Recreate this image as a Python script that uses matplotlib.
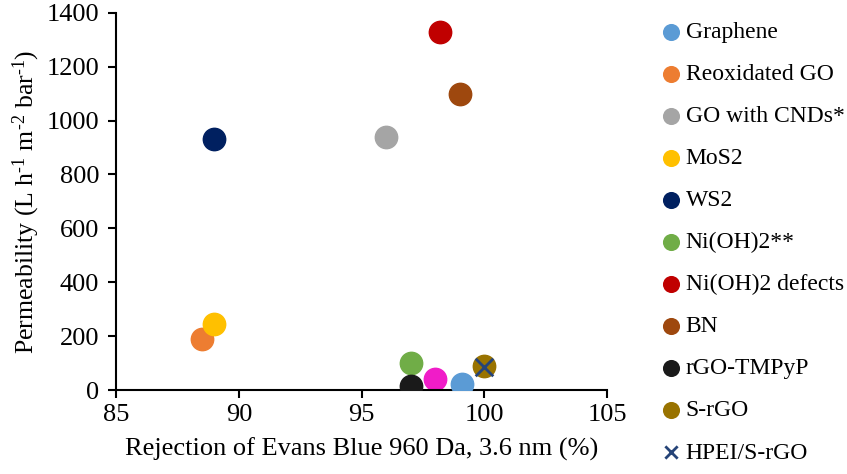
import numpy as np
import matplotlib
matplotlib.use('Agg')
import matplotlib.pyplot as plt

plt.rcParams['font.family'] = ['Liberation Serif', 'DejaVu Serif']
plt.rcParams['mathtext.fontset'] = 'custom'
plt.rcParams['mathtext.rm'] = 'Liberation Serif'
plt.rcParams['mathtext.it'] = 'Liberation Serif:italic'

# membrane materials: rejection (%) vs permeability (L h-1 m-2 bar-1)
labels = ['Graphene', 'Reoxidated GO', 'GO with CNDs*', 'MoS2', 'WS2', 'Ni(OH)2**',
          'Ni(OH)2 defects', 'BN', 'rGO-TMPyP', 'S-rGO']
rejection = [99.1, 88.5, 96.0, 89.0, 89.0, 97.0, 98.2, 99.0, 97.0, 100.0]
permeability = [22, 190, 940, 245, 930, 100, 1330, 1100, 15, 90]
colors = ['#5B9BD5', '#ED7D31', '#A5A5A5', '#FFC000', '#002060', '#70AD47',
          '#C00000', '#9E480E', '#1A1A1A', '#997300']

# extra point without legend entry
extra_x = [98.0]
extra_y = [40]

# cross marker
hpei_x = [100.0]
hpei_y = [85]

fig = plt.figure(figsize=(8.47, 4.74), dpi=100)
ax = fig.add_axes([0.137, 0.177, 0.580, 0.796])

ax.scatter(extra_x, extra_y, s=260, color='#F01CC8', zorder=2)
for i in range(len(labels)):
    ax.scatter(rejection[i], permeability[i], s=260, color=colors[i], label=labels[i], zorder=3)
ax.scatter(hpei_x, hpei_y, s=160, marker='x', color='#264478', linewidths=2,
           label='HPEI/S-rGO', zorder=4)

ax.set_xlim(85, 105)
ax.set_ylim(0, 1400)
ax.set_xticks(np.arange(85, 106, 5))
ax.set_yticks(np.arange(0, 1401, 200))
for s in ['top', 'right']:
    ax.spines[s].set_visible(False)
for s in ['left', 'bottom']:
    ax.spines[s].set_linewidth(1.5)
ax.tick_params(direction='out', length=6, width=1.5, labelsize=19)
ax.tick_params(axis='x', pad=4)
ax.tick_params(axis='y', pad=6)

ax.set_xlabel('Rejection of Evans Blue 960 Da, 3.6 nm (%)', fontsize=19, labelpad=8)
ax.set_ylabel('Permeability (L h$^{‐1}$ m$^{‐2}$ bar$^{‐1}$)', fontsize=18.5, labelpad=3)

h, l = ax.get_legend_handles_labels()
leg = fig.legend(h, l, loc='upper left', bbox_to_anchor=(0.783, 0.955), frameon=False,
                 fontsize=17, handlelength=0.7, handletextpad=0.25, labelspacing=0.87,
                 markerscale=0.7, borderaxespad=0, borderpad=0)

fig.savefig('out.png', dpi=100)
